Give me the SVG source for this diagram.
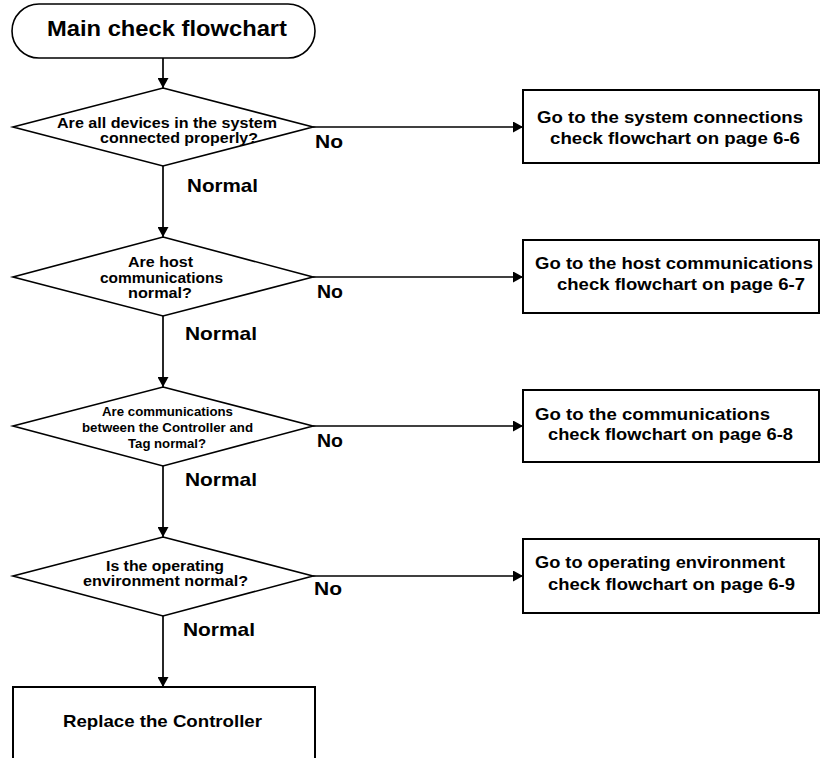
<svg xmlns="http://www.w3.org/2000/svg" width="821" height="758" viewBox="0 0 821 758">
<defs>
<style>
.shape{fill:#fff;stroke:#000;stroke-width:1.6}
.box{fill:#fff;stroke:#000;stroke-width:2}
.conn{fill:none;stroke:#000;stroke-width:1.7}
text{font-family:"Liberation Sans",Arial,sans-serif;font-weight:bold;fill:#000}
.title{font-size:22.5px}
.bt{font-size:17px}
.lbl{font-size:18.5px}
</style>
<marker id="ah" viewBox="0 0 10 10" refX="10" refY="5" markerWidth="10" markerHeight="11" markerUnits="userSpaceOnUse" orient="auto" preserveAspectRatio="none">
<path d="M0,0 L10,5 L0,10 Z" fill="#000"/>
</marker>
</defs>
<rect width="821" height="758" fill="#fff"/>

<g id="connectors">
<line class="conn" x1="163" y1="58" x2="163" y2="88" marker-end="url(#ah)"/>
<line class="conn" x1="163" y1="166" x2="163" y2="237" marker-end="url(#ah)"/>
<line class="conn" x1="163" y1="316" x2="163" y2="387" marker-end="url(#ah)"/>
<line class="conn" x1="163" y1="466" x2="163" y2="537" marker-end="url(#ah)"/>
<line class="conn" x1="163" y1="616" x2="163" y2="687" marker-end="url(#ah)"/>
<line class="conn" x1="313" y1="127" x2="523" y2="127" marker-end="url(#ah)"/>
<line class="conn" x1="313" y1="277" x2="523" y2="277" marker-end="url(#ah)"/>
<line class="conn" x1="313" y1="426" x2="523" y2="426" marker-end="url(#ah)"/>
<line class="conn" x1="313" y1="576" x2="523" y2="576" marker-end="url(#ah)"/>
<text class="lbl" x="187" y="191.5" textLength="71" lengthAdjust="spacingAndGlyphs">Normal</text>
<text class="lbl" x="185" y="339.5" textLength="72" lengthAdjust="spacingAndGlyphs">Normal</text>
<text class="lbl" x="185" y="486" textLength="72" lengthAdjust="spacingAndGlyphs">Normal</text>
<text class="lbl" x="183" y="636" textLength="72" lengthAdjust="spacingAndGlyphs">Normal</text>
<text class="lbl" x="315" y="147.5" textLength="28" lengthAdjust="spacingAndGlyphs">No</text>
<text class="lbl" x="317" y="297.5" textLength="26" lengthAdjust="spacingAndGlyphs">No</text>
<text class="lbl" x="317" y="446.5" textLength="26" lengthAdjust="spacingAndGlyphs">No</text>
<text class="lbl" x="314" y="595" textLength="28" lengthAdjust="spacingAndGlyphs">No</text>
</g>

<g id="start">
<rect class="shape" x="12" y="4" width="303" height="54" rx="27" ry="27"/>
<text class="title" x="47" y="36" textLength="240" lengthAdjust="spacingAndGlyphs">Main check flowchart</text>
</g>

<g id="q1">
<polygon class="shape" points="163,88 313,127 163,166 13,127"/>
<text x="57" y="127.5" font-size="14.8" textLength="220" lengthAdjust="spacingAndGlyphs">Are all devices in the system</text>
<text x="100" y="143" font-size="14.8" textLength="158" lengthAdjust="spacingAndGlyphs">connected properly?</text>
</g>

<g id="q2">
<polygon class="shape" points="163,237 313,277 163,316 13,277"/>
<text x="128" y="266.5" font-size="14.8" textLength="65" lengthAdjust="spacingAndGlyphs">Are host</text>
<text x="100" y="282.5" font-size="14.8" textLength="123" lengthAdjust="spacingAndGlyphs">communications</text>
<text x="128" y="297.5" font-size="14.8" textLength="64" lengthAdjust="spacingAndGlyphs">normal?</text>
</g>

<g id="q3">
<polygon class="shape" points="163,387 313,426 163,466 13,426"/>
<text x="102" y="416" font-size="12.6" textLength="131" lengthAdjust="spacingAndGlyphs">Are communications</text>
<text x="82" y="431.5" font-size="12.6" textLength="171" lengthAdjust="spacingAndGlyphs">between the Controller and</text>
<text x="128" y="447.5" font-size="12.6" textLength="78" lengthAdjust="spacingAndGlyphs">Tag normal?</text>
</g>

<g id="q4">
<polygon class="shape" points="163,537 313,576 163,616 13,576"/>
<text x="106" y="570.5" font-size="14" textLength="118" lengthAdjust="spacingAndGlyphs">Is the operating</text>
<text x="83" y="586" font-size="14" textLength="165" lengthAdjust="spacingAndGlyphs">environment normal?</text>
</g>

<g id="replace">
<rect class="box" x="13" y="687" width="302" height="90"/>
<text class="bt" x="63" y="727" textLength="199" lengthAdjust="spacingAndGlyphs">Replace the Controller</text>
</g>

<g id="r1">
<rect class="box" x="523" y="90" width="296" height="73"/>
<text class="bt" x="537" y="122.5" textLength="266" lengthAdjust="spacingAndGlyphs">Go to the system connections</text>
<text class="bt" x="550" y="143.5" textLength="250" lengthAdjust="spacingAndGlyphs">check flowchart on page 6-6</text>
</g>

<g id="r2">
<rect class="box" x="523" y="240" width="296" height="73"/>
<text class="bt" x="535" y="268.5" textLength="278" lengthAdjust="spacingAndGlyphs">Go to the host communications</text>
<text class="bt" x="557" y="290" textLength="248" lengthAdjust="spacingAndGlyphs">check flowchart on page 6-7</text>
</g>

<g id="r3">
<rect class="box" x="523" y="390" width="296" height="72"/>
<text class="bt" x="535" y="420" textLength="235" lengthAdjust="spacingAndGlyphs">Go to the communications</text>
<text class="bt" x="548" y="440" textLength="245" lengthAdjust="spacingAndGlyphs">check flowchart on page 6-8</text>
</g>

<g id="r4">
<rect class="box" x="523" y="539" width="296" height="74"/>
<text class="bt" x="535" y="567.5" textLength="250" lengthAdjust="spacingAndGlyphs">Go to operating environment</text>
<text class="bt" x="548" y="590" textLength="247" lengthAdjust="spacingAndGlyphs">check flowchart on page 6-9</text>
</g>
</svg>
